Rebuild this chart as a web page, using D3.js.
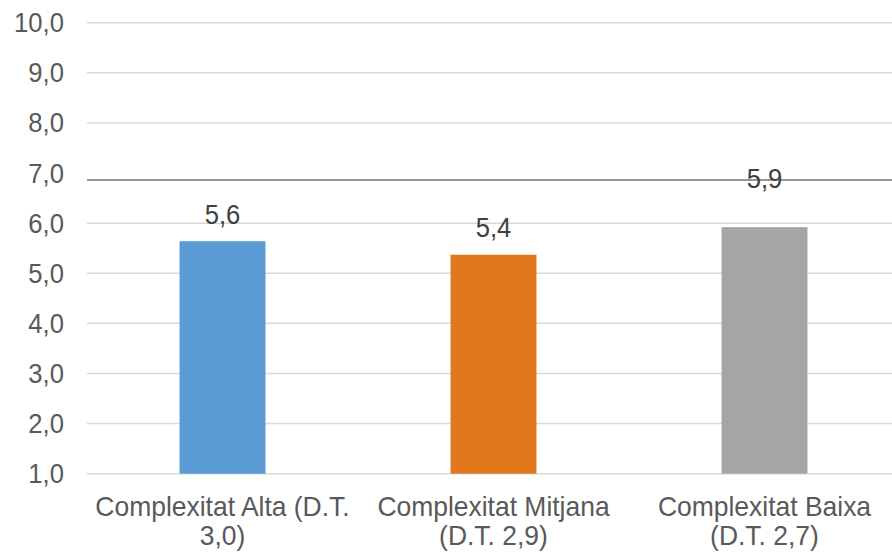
<!DOCTYPE html>
<html><head><meta charset="utf-8">
<script src="https://cdn.jsdelivr.net/npm/d3@7"></script>
<style>html,body{margin:0;padding:0;background:#fff;overflow:hidden}</style>
</head><body>
<svg id="c" width="892" height="552"></svg>
<script>
const categories = ["Complexitat Alta (D.T. 3,0)", "Complexitat Mitjana (D.T. 2,9)", "Complexitat Baixa (D.T. 2,7)"];
const categoryLines = [["Complexitat Alta (D.T.", "3,0)"], ["Complexitat Mitjana", "(D.T. 2,9)"], ["Complexitat Baixa", "(D.T. 2,7)"]];
const values = [5.64, 5.37, 5.92];
const valueLabels = ["5,6", "5,4", "5,9"];
const colors = ["#5B9BD5", "#E1781E", "#A5A5A5"];
const yTicks = [1, 2, 3, 4, 5, 6, 7, 8, 9, 10];
const gridValues = [1, 2, 3, 4, 5, 6, 8, 9, 10];
const referenceValue = 6.86;

const FONT = "Liberation Sans, Arial, sans-serif";
const FS = 27;
const svg = d3.select("#c");
const x = d3.scaleBand().domain(categories).range([87, 900]).paddingInner(0.683).paddingOuter(0.3415);
const y = d3.scaleLinear().domain([1, 10]).range([473.7, 22.7]);
const fmt = v => d3.format(".1f")(v).replace(".", ",");

svg.append("g").selectAll("line").data(gridValues).join("line")
  .attr("x1", 87).attr("x2", 892)
  .attr("y1", d => y(d)).attr("y2", d => y(d))
  .attr("stroke", "#D9D9D9").attr("stroke-width", 1.5);

svg.append("g").selectAll("text").data(yTicks).join("text")
  .attr("transform", d => `translate(64,${y(d) + 9.5}) scale(0.95,1)`)
  .attr("text-anchor", "end")
  .attr("font-family", FONT).attr("font-size", FS)
  .attr("fill", "#595959").text(fmt);

svg.append("g").selectAll("rect").data(values).join("rect")
  .attr("x", (d, i) => x(categories[i])).attr("width", x.bandwidth())
  .attr("y", d => y(d)).attr("height", d => y(1) - y(d))
  .attr("fill", (d, i) => colors[i]);

svg.append("line")
  .attr("x1", 87).attr("x2", 892)
  .attr("y1", y(referenceValue)).attr("y2", y(referenceValue))
  .attr("stroke", "#737373").attr("stroke-width", 1.5);

svg.append("g").selectAll("text").data(values).join("text")
  .attr("transform", (d, i) => {
    const cx = x(categories[i]) + x.bandwidth() / 2;
    const by = i === 2 ? y(referenceValue) + 7.5 : y(d) - 17.5;
    return `translate(${cx},${by}) scale(0.95,1)`;
  })
  .attr("text-anchor", "middle")
  .attr("font-family", FONT).attr("font-size", FS)
  .attr("fill", "#404040").text((d, i) => valueLabels[i]);

const cat = svg.append("g").selectAll("text").data(categoryLines).join("text")
  .attr("text-anchor", "middle")
  .attr("font-family", FONT).attr("font-size", FS)
  .attr("fill", "#595959")
  .attr("transform", (d, i) => `translate(${x(categories[i]) + x.bandwidth() / 2},515.5) scale(0.98,1)`);
cat.selectAll("tspan").data(d => d).join("tspan")
  .attr("x", 0).attr("y", (d, j) => j * 30)
  .text(d => d);
</script>
</body></html>
